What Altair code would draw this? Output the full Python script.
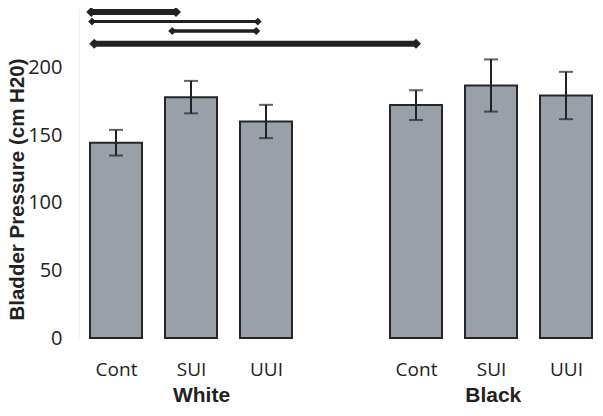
import altair as alt
import pandas as pd

# Bar data (slot index: 0-2 White, 4-6 Black)
slots = [0, 1, 2, 4, 5, 6]
groups = ["Cont", "SUI", "UUI", "Cont", "SUI", "UUI"]
means = [144.4, 178.1, 160.1, 172.2, 186.7, 179.3]
errs = [9.5, 12.0, 12.3, 11.0, 19.3, 17.5]

# Group labels
race_labels = ["White", "Black"]
race_pos = [1.14, 5.03]

# Significance brackets (in slot units)
br_start = [-0.33, -0.32, 0.75, -0.29]
br_end = [0.80, 1.89, 1.87, 4.00]
br_level = [241.0, 234.0, 227.0, 217.5]
br_weight = [6, 3, 3.5, 6]
br_diamond = [100, 60, 65, 100]

bars_df = pd.DataFrame({
    "x": slots, "grp": groups, "mean": means,
    "lo": [m - e for m, e in zip(means, errs)],
    "hi": [m + e for m, e in zip(means, errs)],
})
br_df = pd.DataFrame({"x": br_start, "x2": br_end, "y": br_level,
                      "w": br_weight, "d": br_diamond})
br_pts = pd.concat([
    pd.DataFrame({"x": br_start, "y": br_level, "d": br_diamond}),
    pd.DataFrame({"x": br_end, "y": br_level, "d": br_diamond}),
])
race_df = pd.DataFrame({"x": race_pos, "label": race_labels})

xscale = alt.Scale(domain=[-0.4933, 6.3733], nice=False, zero=False, padding=0)
yscale = alt.Scale(domain=[0, 244], nice=False, padding=0)

xaxis = alt.Axis(values=[0, 1, 2, 4, 5, 6],
                 labelExpr="['Cont','SUI','UUI','','Cont','SUI','UUI'][datum.value]",
                 grid=False, ticks=False, domain=False, title=None,
                 labelFont="Open Sans", labelFontSize=19, labelColor="#222222",
                 labelPadding=22)
yaxis = alt.Axis(values=[0, 50, 100, 150, 200], grid=False, ticks=False,
                 domainColor="#eeeeee", labelPadding=17,
                 labelFont="Open Sans", labelFontSize=20, labelColor="#222222",
                 title="Bladder Pressure (cm H20)", titleFont="Liberation Sans",
                 titleFontSize=20.5, titleFontWeight="bold", titleColor="#222222",
                 titleX=-52, titleY=181)

X = alt.X("x:Q", scale=xscale, axis=xaxis)

bars = alt.Chart(bars_df).mark_bar(size=52, color="#9aa0a8", stroke="#262626",
                                   strokeWidth=2).encode(
    x=X, y=alt.Y("mean:Q", scale=yscale, axis=yaxis))

err = alt.Chart(bars_df).mark_rule(color="#222222", strokeWidth=2).encode(
    x="x:Q", y="lo:Q", y2="hi:Q")
cap_lo = alt.Chart(bars_df).mark_tick(orient="horizontal", size=14, thickness=2,
                                      color="#222222").encode(x="x:Q", y="lo:Q")
cap_hi = alt.Chart(bars_df).mark_tick(orient="horizontal", size=14, thickness=2,
                                      color="#222222").encode(x="x:Q", y="hi:Q")

br_lines = alt.Chart(br_df).mark_rule(color="#222222").encode(
    x="x:Q", x2="x2:Q", y="y:Q",
    strokeWidth=alt.StrokeWidth("w:Q", scale=None))
br_dia = alt.Chart(br_pts).mark_point(shape="diamond", filled=True, opacity=1,
                                      color="#222222").encode(
    x="x:Q", y="y:Q", size=alt.Size("d:Q", scale=None))

race = alt.Chart(race_df).mark_text(font="Liberation Sans", fontSize=21,
                                    fontWeight="bold", color="#222222",
                                    baseline="middle").encode(
    x="x:Q", y=alt.value(388), text="label:N")

chart = alt.layer(bars, err, cap_lo, cap_hi, br_lines, br_dia, race).properties(
    width=515, height=330,
    padding={"left": 71, "top": 0, "right": 1, "bottom": 70},
    autosize=alt.AutoSizeParams(type="none")
).configure_view(stroke=None)

chart.save("out.html", embed_options={"renderer": "svg", "actions": False})
